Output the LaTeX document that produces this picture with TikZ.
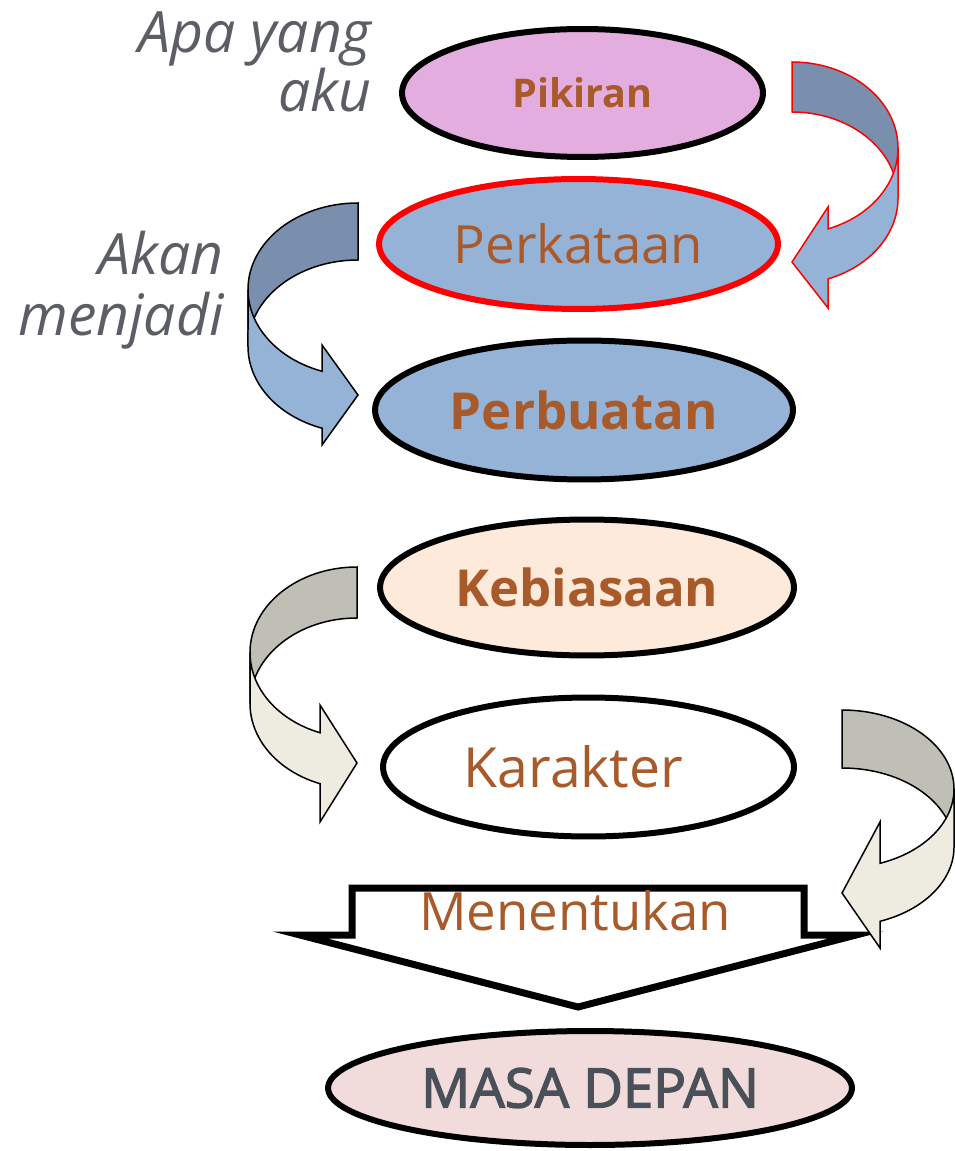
\documentclass[tikz,border=0pt]{standalone}
\usepackage{fontspec}
\setmainfont{Open Sans}
\newfontfamily\masafont[FakeBold=2.5]{Open Sans}
\usetikzlibrary{shapes.geometric,positioning}
\definecolor{txtbrown}{HTML}{A85A2A}
\definecolor{notegray}{HTML}{5B5E64}
\definecolor{pinkfill}{HTML}{E4ADE0}
\definecolor{bluefill}{HTML}{95B3D7}
\definecolor{bluedark}{HTML}{7A8FAE}
\definecolor{peachfill}{HTML}{FDEADA}
\definecolor{rosefill}{HTML}{F2DCDB}
\definecolor{greydark}{HTML}{BFBFB6}
\definecolor{greylight}{HTML}{EEECE1}
\definecolor{masagray}{HTML}{4A5059}
\begin{document}
\begin{tikzpicture}[x=0.02cm,y=0.02cm,
  bubble/.style={ellipse,draw=black,line width=0.12cm,inner sep=0pt,text=txtbrown,font=\fontsize{30}{36}\selectfont},
  note/.style={align=right,text=notegray,anchor=east,inner sep=0pt},
  bendline/.style={draw=black,line width=0.03cm}]
\useasboundingbox (0,0) rectangle (955,-1151);

\node[note,font=\fontsize{32.5}{34}\selectfont\itshape] (apa) at (372,-62) {Apa yang\\aku};
\node[note,font=\fontsize{32.5}{35}\selectfont\itshape] (akan) at (224,-290) {Akan\\menjadi};

\node[bubble,fill=pinkfill,minimum width=7.22cm,minimum height=2.56cm,font=\fontsize{22.5}{27}\selectfont\bfseries] (pikiran) at (582.5,-93) {Pikiran};
\node[bubble,draw=red,fill=bluefill,minimum width=7.98cm,minimum height=2.60cm] (perkataan) at (578.5,-244) {Perkataan};
\node[bubble,fill=bluefill,minimum width=8.36cm,minimum height=2.78cm,font=\fontsize{29}{35}\selectfont\bfseries] (perbuatan) at (584,-410) {Perbuatan};
\node[bubble,fill=peachfill,minimum width=8.28cm,minimum height=2.72cm,font=\fontsize{29}{35}\selectfont\bfseries] (kebiasaan) at (587,-587.5) {Kebiasaan};
\node[bubble,fill=white,minimum width=8.22cm,minimum height=2.78cm,font=\fontsize{31.5}{36}\selectfont] (karakter) at (588.5,-767) {Karakter\hspace*{0.6cm}};

\filldraw[draw=black,fill=white,line width=0.14cm,miter limit=10] (352,-888) -- (804,-888) -- (804,-935) -- (856,-935) -- (578,-1007) -- (300,-935) -- (352,-935) -- cycle;
\node[text=txtbrown,font=\fontsize{30}{36}\selectfont] (menentukan) at (575,-911) {Menentukan};

\node[bubble,fill=rosefill,text=masagray,minimum width=10.48cm,minimum height=2.28cm,font=\masafont\fontsize{31}{36}\selectfont] (masadepan) at (590,-1088) {MASA DEPAN};

\filldraw[draw=red,line width=0.03cm,fill=bluedark] (792,-62) arc[start angle=90,end angle=0,x radius=106,y radius=86] -- (898,-198) arc[start angle=0,end angle=90,x radius=106,y radius=86] -- cycle;
\filldraw[draw=red,line width=0.03cm,fill=bluefill] (898,-148) arc[start angle=0,end angle=-70.15,x radius=106,y radius=86] -- (828,-207) -- (792,-262) -- (828,-308) -- (828,-278.9) arc[start angle=-70.15,end angle=0,x radius=106,y radius=86] -- cycle;

\filldraw[bendline,fill=bluedark] (358,-203) arc[start angle=90,end angle=180,x radius=110,y radius=86.5] -- (248,-346.5) arc[start angle=180,end angle=90,x radius=110,y radius=86.5] -- cycle;
\filldraw[bendline,fill=bluefill] (248,-289.5) arc[start angle=180,end angle=250.9,x radius=110,y radius=86.5] -- (322,-345) -- (358,-395) -- (322,-445) -- (322,-428.2) arc[start angle=250.9,end angle=180,x radius=110,y radius=86.5] -- cycle;

\filldraw[bendline,fill=greydark] (357,-567) arc[start angle=90,end angle=180,x radius=107,y radius=85.5] -- (250,-703.5) arc[start angle=180,end angle=90,x radius=107,y radius=85.5] -- cycle;
\filldraw[bendline,fill=greylight] (250,-652.5) arc[start angle=180,end angle=249.77,x radius=107,y radius=85.5] -- (320,-705) -- (357,-763) -- (320,-822) -- (320,-783.7) arc[start angle=249.77,end angle=180,x radius=107,y radius=85.5] -- cycle;

\filldraw[bendline,fill=greydark] (842,-710) arc[start angle=90,end angle=0,x radius=112,y radius=79] -- (954,-847) arc[start angle=0,end angle=90,x radius=112,y radius=79] -- cycle;
\filldraw[bendline,fill=greylight] (954,-789) arc[start angle=0,end angle=-70.17,x radius=112,y radius=79] -- (880,-822) -- (842,-893) -- (880,-948) -- (880,-921.3) arc[start angle=-70.17,end angle=0,x radius=112,y radius=79] -- cycle;
\end{tikzpicture}
\end{document}
